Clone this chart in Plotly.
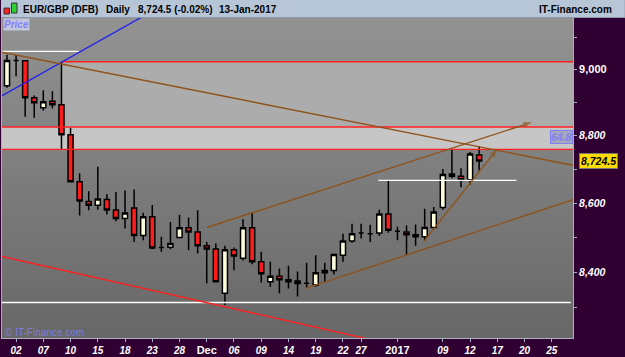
import math
import plotly.graph_objects as go

# ---------------- data ----------------
dates = ["2016-11-01","2016-11-02","2016-11-03","2016-11-04","2016-11-07","2016-11-08","2016-11-09",
         "2016-11-10","2016-11-11","2016-11-14","2016-11-15","2016-11-16","2016-11-17","2016-11-18",
         "2016-11-21","2016-11-22","2016-11-23","2016-11-24","2016-11-25","2016-11-28","2016-11-29",
         "2016-11-30","2016-12-01","2016-12-02","2016-12-05","2016-12-06","2016-12-07","2016-12-08",
         "2016-12-09","2016-12-12","2016-12-13","2016-12-14","2016-12-15","2016-12-16","2016-12-19",
         "2016-12-20","2016-12-21","2016-12-22","2016-12-23","2016-12-27","2016-12-28","2016-12-29",
         "2016-12-30","2017-01-02","2017-01-03","2017-01-04","2017-01-05","2017-01-06","2017-01-09",
         "2017-01-10","2017-01-11","2017-01-12","2017-01-13"]
future_dates = ["2017-01-16","2017-01-17","2017-01-18","2017-01-19","2017-01-20",
                "2017-01-23","2017-01-24","2017-01-25"]

opens  = [8951,9028,9027,8914,8884,8904,8893,8803,8663,8605,8594,8611,8580,8555,8586,8506,8560,8471,
          8472,8500,8528,8516,8476,8467,8340,8465,8440,8528,8430,8373,8389,8379,8375,8369,8364,8399,
          8405,8449,8490,8513,8511,8513,8568,8518,8516,8508,8502,8529,8587,8686,8679,8669,8742]
highs  = [9046,9045,9028,8921,8937,8934,9024,8824,8688,8635,8707,8626,8633,8637,8640,8572,8595,8502,
          8545,8566,8558,8579,8487,8483,8476,8471,8553,8574,8459,8430,8411,8419,8402,8427,8449,8427,
          8454,8511,8540,8540,8537,8581,8666,8531,8535,8538,8584,8589,8701,8760,8703,8751,8768]
lows   = [8945,8980,8857,8854,8876,8882,8760,8661,8564,8579,8581,8567,8547,8526,8487,8492,8466,8459,
          8466,8497,8463,8454,8369,8371,8307,8406,8434,8423,8371,8359,8340,8354,8331,8356,8359,8373,
          8394,8430,8485,8497,8487,8505,8514,8492,8451,8476,8492,8524,8581,8673,8647,8654,8696]
closes = [9028,9028,8914,8899,8902,8893,8803,8663,8606,8594,8612,8580,8555,8571,8506,8560,8470,8471,
          8483,8528,8516,8476,8467,8373,8465,8447,8528,8430,8396,8389,8379,8373,8368,8369,8399,8405,
          8451,8490,8511,8513,8511,8568,8521,8518,8508,8502,8529,8574,8684,8679,8669,8745,8724.5]

tick_dates  = ["2016-11-02","2016-11-07","2016-11-10","2016-11-15","2016-11-18","2016-11-23","2016-11-28",
               "2016-12-01","2016-12-06","2016-12-09","2016-12-14","2016-12-19","2016-12-22","2016-12-27",
               "2017-01-02","2017-01-09","2017-01-12","2017-01-17","2017-01-20","2017-01-25"]
tick_labels = ["02","07","10","15","18","23","28","Dec","06","09","14","19","22","27","2017",
               "09","12","17","20","25"]

price_ticks = [8300, 8400, 8500, 8600, 8700, 8800, 8900, 9000, 9100]
price_tick_labels = ["", "8,400", "", "8,600", "", "8,800", "", "9,000", ""]

# drawn objects (bar index, price)
blue_line_x, blue_line_y = [-1, 15], [8913.5, 9165]
brown_down_x, brown_down_y = [-1, 63], [9055.8, 8708]
brown_up_x, brown_up_y = [22, 57.8], [8529, 8840]
brown_low_x, brown_low_y = [32.9, 63], [8354, 8616]
brown_steep_x, brown_steep_y = [45.9, 54.0], [8489, 8760]
red_diag_x, red_diag_y = [-1, 40], [8448, 8210]
white_levels = [(-1, 7.9, 9056), (40.9, 56.1, 8667), (-1, 62.1, 8314)]
red_levels = [(6, 63, 9024), (-1, 63, 8826), (-1, 63, 8759)]
zone_a = (6, 63, 8826, 9024)
zone_b = (-1, 63, 8759, 8826)
last_price = 8724.5
osc_label_price = 8795

# ---------------- figure ----------------
all_dates = dates + future_dates
idx = list(range(len(dates)))
tickvals = [all_dates.index(d) for d in tick_dates]
ticktext = []
for t in tick_labels:
    if t in ("Dec", "2017"):
        ticktext.append("<span style='font-size:11px'>%s</span>" % t)
    else:
        ticktext.append("<i>%s</i>" % t)
yticktext = []
for t in price_tick_labels:
    if t == "9,000":
        yticktext.append("<span style='font-size:11px'>%s</span>" % t)
    elif t:
        yticktext.append("<i>%s</i>" % t)
    else:
        yticktext.append("")

W, H = 625, 357
L, R, T, B = 1, 52, 18, 17
PW, PH = W - L - R, H - T - B

def px(x):
    return (x - L) / PW

def py(y):
    return 1 + (T - y) / PH

BROWN = "#8f5218"
REDL = "#ff2020"

fig = go.Figure()

# trend lines / levels (scatter)
for (x0, x1, v) in white_levels:
    fig.add_trace(go.Scatter(x=[x0, x1], y=[v, v], mode="lines",
                             line=dict(color="white", width=1.4), hoverinfo="skip", showlegend=False))
for (x0, x1, v) in red_levels:
    fig.add_trace(go.Scatter(x=[x0, x1], y=[v, v], mode="lines",
                             line=dict(color=REDL, width=1.4), hoverinfo="skip", showlegend=False))
fig.add_trace(go.Scatter(x=red_diag_x, y=red_diag_y, mode="lines",
                         line=dict(color=REDL, width=1.4), hoverinfo="skip", showlegend=False))
fig.add_trace(go.Scatter(x=blue_line_x, y=blue_line_y, mode="lines",
                         line=dict(color="#2020ee", width=1.3), hoverinfo="skip", showlegend=False))
for xs, ys in [(brown_down_x, brown_down_y), (brown_low_x, brown_low_y)]:
    fig.add_trace(go.Scatter(x=xs, y=ys, mode="lines",
                             line=dict(color=BROWN, width=1.4), hoverinfo="skip", showlegend=False))
for xs, ys in [(brown_up_x, brown_up_y), (brown_steep_x, brown_steep_y)]:
    fig.add_trace(go.Scatter(x=xs, y=ys, mode="lines+markers",
                             line=dict(color=BROWN, width=1.4),
                             marker=dict(symbol=["circle", "arrow"], size=[0, 9], color=BROWN,
                                         angleref="previous", line=dict(width=0)),
                             hoverinfo="skip", showlegend=False))

fig.add_trace(go.Candlestick(
    x=idx, open=opens, high=highs, low=lows, close=closes,
    increasing=dict(fillcolor="#fcfcdc", line=dict(color="black", width=1.5)),
    decreasing=dict(fillcolor="#ff1c1c", line=dict(color="black", width=1.5)),
    whiskerwidth=0, hoverinfo="skip", showlegend=False))

shapes = []
# background gradient of plot area
N = 40
for i in range(N):
    t = i / (N - 1)
    c = int(round(146 - 42 * t))
    shapes.append(dict(type="rect", xref="paper", yref="paper", x0=0, x1=1,
                       y0=1 - (i + 1) / N, y1=1 - i / N + 0.001, layer="below",
                       fillcolor="rgb(%d,%d,%d)" % (c, c, c), line=dict(width=0)))
# zones (shapes on this log axis take data values)
shapes.append(dict(type="rect", xref="x", yref="y", x0=zone_a[0], x1=zone_a[1],
                   y0=zone_a[2], y1=zone_a[3], layer="below",
                   fillcolor="#acacac", line=dict(width=0)))
shapes.append(dict(type="rect", xref="x", yref="y", x0=zone_b[0], x1=zone_b[1],
                   y0=zone_b[2], y1=zone_b[3], layer="below",
                   fillcolor="#c6c6c6", line=dict(width=0)))
# title bar
shapes.append(dict(type="rect", xref="paper", yref="paper", x0=px(0), x1=px(W),
                   y0=py(T), y1=py(0), layer="below", fillcolor="#b6c6d6", line=dict(width=0)))
shapes.append(dict(type="line", xref="paper", yref="paper", x0=px(0), x1=px(W),
                   y0=py(T - 0.5), y1=py(T - 0.5), line=dict(color="#8a9aaa", width=1)))
# small icon
shapes.append(dict(type="rect", xref="paper", yref="paper", x0=px(3), x1=px(8.5),
                   y0=py(14), y1=py(8), fillcolor="#ff2020", line=dict(color="#333", width=1)))
shapes.append(dict(type="rect", xref="paper", yref="paper", x0=px(10.5), x1=px(16),
                   y0=py(13), y1=py(3), fillcolor="#30d030", line=dict(color="#333", width=1)))

annotations = []
tf = dict(family="Liberation Sans, Arial", size=10, color="black", weight="bold")
for text, x in [("EUR/GBP (DFB)", 20.5), ("Daily", 103.5), ("8,724.5 (-0.02%)", 135), ("13-Jan-2017", 216.5)]:
    annotations.append(dict(text=text, xref="paper", yref="paper", x=px(x), y=py(9),
                            xanchor="left", yanchor="middle", showarrow=False, font=tf))
annotations.append(dict(text="IT-Finance.com", xref="paper", yref="paper", x=px(614), y=py(9),
                        xanchor="right", yanchor="middle", showarrow=False, font=tf))
annotations.append(dict(text="<i>Price</i>", xref="paper", yref="paper", x=px(2), y=py(18.5),
                        xanchor="left", yanchor="top", showarrow=False,
                        font=dict(family="Liberation Sans, Arial", size=10, color="#8080ff", weight="bold"),
                        bgcolor="#c2c6da", borderpad=0))
annotations.append(dict(text="© IT-Finance.com", xref="paper", yref="paper", x=px(2), y=py(334),
                        xanchor="left", yanchor="middle", showarrow=False,
                        font=dict(family="Liberation Sans, Arial", size=10, color="#7d7dde")))
annotations.append(dict(text="<i>8,724.5</i>", xref="paper", yref="y", x=px(579),
                        y=math.log10(last_price), xanchor="left", yanchor="middle", showarrow=False,
                        font=dict(family="Liberation Sans, Arial", size=10.5, color="black", weight="bold"),
                        bgcolor="#ffdc00", bordercolor="#7a7a7a", borderwidth=1, borderpad=1))
annotations.append(dict(text="<i>64.8</i>", xref="paper", yref="y", x=px(573),
                        y=math.log10(osc_label_price), xanchor="right", yanchor="middle", showarrow=False,
                        font=dict(family="Liberation Sans, Arial", size=10.5, color="#8080f0", weight="bold"),
                        bgcolor="#a8a8bc", bordercolor="#8080f0", borderwidth=1, borderpad=0))

axis_line = "#a4b2c0"
fig.update_layout(
    width=W, height=H, margin=dict(l=L, r=R, t=T, b=B, pad=0),
    paper_bgcolor="#300032", plot_bgcolor="#808080",
    boxgap=0.2, showlegend=False, hovermode=False,
    shapes=shapes, annotations=annotations,
    font=dict(family="Liberation Sans, Arial"),
    xaxis=dict(range=[(L - 6) / 9.096, (W - R - 6) / 9.096], rangeslider=dict(visible=False),
               tickmode="array", tickvals=tickvals, ticktext=ticktext,
               ticks="outside", ticklen=3, tickcolor=axis_line, showgrid=False, zeroline=False,
               showline=True, linecolor=axis_line, linewidth=1, mirror=True,
               tickfont=dict(size=10, color="white", weight="bold"), fixedrange=True),
    yaxis=dict(type="log", side="right", range=[3.914563, 3.961877],
               tickmode="array", tickvals=price_ticks, ticktext=yticktext,
               ticks="outside", ticklen=3, tickcolor=axis_line, showgrid=False, zeroline=False,
               showline=True, linecolor=axis_line, linewidth=1, mirror=True,
               tickfont=dict(size=10.5, color="white", weight="bold"), fixedrange=True),
)

fig.write_html("out.html", config={"displayModeBar": False})
